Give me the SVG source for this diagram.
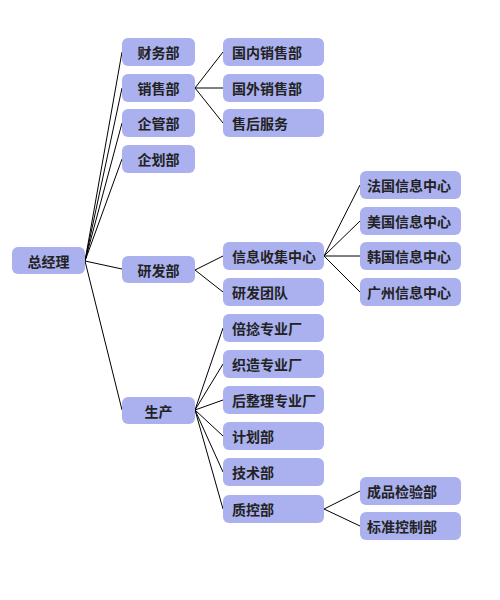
<svg xmlns="http://www.w3.org/2000/svg" width="500" height="600" viewBox="0 0 500 600">
<style>
rect.n{fill:#AAB1EE;}
text{font-family:"Noto Sans CJK SC","Noto Sans",sans-serif;font-size:14px;font-weight:bold;fill:#222;dominant-baseline:central;}
text.c{text-anchor:middle;}
#connectors line{stroke:#000;stroke-width:1;}
</style>
<rect width="500" height="600" fill="#fff"/>
<g id="connectors">
<line x1="85" y1="261" x2="122" y2="52"/>
<line x1="85" y1="261" x2="122" y2="88"/>
<line x1="85" y1="261" x2="122" y2="123"/>
<line x1="85" y1="261" x2="122" y2="159"/>
<line x1="85" y1="261" x2="122" y2="269"/>
<line x1="85" y1="261" x2="122" y2="410"/>
<line x1="195" y1="88" x2="223" y2="52"/>
<line x1="195" y1="88" x2="223" y2="88"/>
<line x1="195" y1="88" x2="223" y2="123"/>
<line x1="195" y1="270" x2="223" y2="256"/>
<line x1="195" y1="270" x2="223" y2="292"/>
<line x1="324" y1="256" x2="360" y2="185"/>
<line x1="324" y1="256" x2="360" y2="221"/>
<line x1="324" y1="256" x2="360" y2="256"/>
<line x1="324" y1="256" x2="360" y2="292"/>
<line x1="195" y1="410" x2="223" y2="328"/>
<line x1="195" y1="410" x2="223" y2="364"/>
<line x1="195" y1="410" x2="223" y2="400"/>
<line x1="195" y1="410" x2="223" y2="436"/>
<line x1="195" y1="410" x2="223" y2="472"/>
<line x1="195" y1="410" x2="223" y2="509"/>
<line x1="324" y1="509" x2="360" y2="491"/>
<line x1="324" y1="509" x2="360" y2="526"/>
</g>
<g id="n-root"><rect class="n" x="12" y="247" width="73" height="27" rx="6"/><text class="c" x="48.5" y="260.5">总经理</text></g>
<g id="n-caiwu"><rect class="n" x="122" y="38" width="73" height="28" rx="6"/><text class="c" x="158.5" y="52">财务部</text></g>
<g id="n-xiaoshou"><rect class="n" x="122" y="74" width="73" height="28" rx="6"/><text class="c" x="158.5" y="88">销售部</text></g>
<g id="n-qiguan"><rect class="n" x="122" y="109" width="73" height="28" rx="6"/><text class="c" x="158.5" y="123">企管部</text></g>
<g id="n-qihua"><rect class="n" x="122" y="145" width="73" height="28" rx="6"/><text class="c" x="158.5" y="159">企划部</text></g>
<g id="n-yanfa"><rect class="n" x="122" y="256" width="73" height="27" rx="6"/><text class="c" x="158.5" y="269.5">研发部</text></g>
<g id="n-shengchan"><rect class="n" x="122" y="397" width="73" height="27" rx="6"/><text class="c" x="158.5" y="410.5">生产</text></g>
<g id="n-guonei"><rect class="n" x="223" y="38" width="101" height="28" rx="6"/><text x="232" y="52">国内销售部</text></g>
<g id="n-guowai"><rect class="n" x="223" y="74" width="101" height="28" rx="6"/><text x="232" y="88">国外销售部</text></g>
<g id="n-shouhou"><rect class="n" x="223" y="109" width="101" height="28" rx="6"/><text x="232" y="123">售后服务</text></g>
<g id="n-xinxi"><rect class="n" x="223" y="242" width="101" height="28" rx="6"/><text x="232" y="256">信息收集中心</text></g>
<g id="n-tuandui"><rect class="n" x="223" y="278" width="101" height="28" rx="6"/><text x="232" y="292">研发团队</text></g>
<g id="n-faguo"><rect class="n" x="360" y="171" width="101" height="28" rx="6"/><text x="367" y="185">法国信息中心</text></g>
<g id="n-meiguo"><rect class="n" x="360" y="207" width="101" height="28" rx="6"/><text x="367" y="221">美国信息中心</text></g>
<g id="n-hanguo"><rect class="n" x="360" y="242" width="101" height="28" rx="6"/><text x="367" y="256">韩国信息中心</text></g>
<g id="n-guangzhou"><rect class="n" x="360" y="278" width="101" height="28" rx="6"/><text x="367" y="292">广州信息中心</text></g>
<g id="n-beinian"><rect class="n" x="223" y="314" width="101" height="28" rx="6"/><text x="232" y="328">倍捻专业厂</text></g>
<g id="n-zhizao"><rect class="n" x="223" y="350" width="101" height="28" rx="6"/><text x="232" y="364">织造专业厂</text></g>
<g id="n-houzhengli"><rect class="n" x="223" y="386" width="101" height="28" rx="6"/><text x="232" y="400">后整理专业厂</text></g>
<g id="n-jihua"><rect class="n" x="223" y="422" width="101" height="28" rx="6"/><text x="232" y="436">计划部</text></g>
<g id="n-jishu"><rect class="n" x="223" y="458" width="101" height="28" rx="6"/><text x="232" y="472">技术部</text></g>
<g id="n-zhikong"><rect class="n" x="223" y="495" width="101" height="28" rx="6"/><text x="232" y="509">质控部</text></g>
<g id="n-chengpin"><rect class="n" x="360" y="477" width="101" height="28" rx="6"/><text x="367" y="491">成品检验部</text></g>
<g id="n-biaozhun"><rect class="n" x="360" y="512" width="101" height="28" rx="6"/><text x="367" y="526">标准控制部</text></g>
</svg>
